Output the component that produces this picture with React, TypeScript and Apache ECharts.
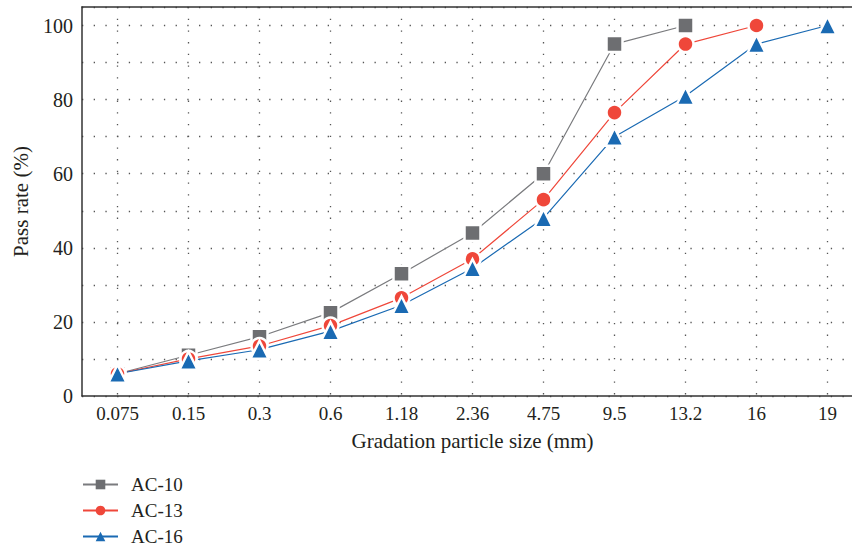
import React, { useEffect, useRef } from "react";
import * as echarts from "echarts";

const categories = ["0.075", "0.15", "0.3", "0.6", "1.18", "2.36", "4.75", "9.5", "13.2", "16", "19"];
const ac10 = [6, 11, 16, 22.5, 33, 44, 60, 95, 100, null, null];
const ac13 = [6, 10, 13.5, 19, 26.5, 37, 53, 76.5, 95, 100, null];
const ac16 = [6, 9.5, 12.5, 17.5, 24.5, 34.5, 48, 70, 81, 95, 100];
const yTicks = [0, 20, 40, 60, 80, 100];

const FONT = "Liberation Serif";
const TXT = "#231f20";

export default function App() {
  const ref = useRef<HTMLDivElement>(null);
  useEffect(() => {
    if (!ref.current) return;
    const chart = echarts.init(ref.current, undefined, { renderer: "svg" });
    const dotted = { color: "#555", width: 1.3, type: [1.3, 10.4] as any };
    const mk = (name: string, data: any[], color: string, lineColor: string, symbol: string, size: number) => ({
      name,
      type: "line",
      data,
      symbol,
      symbolSize: size,
      connectNulls: false,
      lineStyle: { color: lineColor, width: 1.2 },
      itemStyle: { color, borderColor: "#fff", borderWidth: 2.5 },
      emphasis: { disabled: true },
    });
    chart.setOption({
      animation: false,
      textStyle: { fontFamily: FONT },
      grid: { left: 82, right: 0, top: 7, bottom: 152 },
      legend: {
        orient: "vertical",
        left: 82,
        top: 475,
        height: 120,
        padding: 0,
        itemWidth: 35,
        itemHeight: 12,
        itemGap: 7,
        textStyle: { fontFamily: FONT, fontSize: 19, color: TXT, padding: [0, 0, 0, 8] },
        data: [
          { name: "AC-10", itemStyle: { borderWidth: 0 } },
          { name: "AC-13", itemStyle: { borderWidth: 0 } },
          { name: "AC-16", itemStyle: { borderWidth: 0 } },
        ],
      },
      xAxis: [
        {
          type: "category",
          data: categories,
          boundaryGap: true,
          name: "Gradation particle size (mm)",
          nameLocation: "middle",
          nameGap: 34,
          nameTextStyle: { fontFamily: FONT, fontSize: 21, color: TXT },
          axisLine: { lineStyle: { color: "#333", width: 1.5 } },
          axisTick: { inside: true, length: 7, alignWithLabel: true, interval: 0, lineStyle: { color: "#333", width: 1.2 } },
          axisLabel: { interval: 0, margin: 8, fontFamily: FONT, fontSize: 19, color: TXT },
          splitLine: { show: true, interval: 0, alignWithLabel: true, lineStyle: dotted } as any,
        },
        {
          type: "category",
          data: categories,
          position: "top",
          axisLine: { show: true, lineStyle: { color: "#333", width: 1.5 } },
          axisTick: { show: false },
          axisLabel: { show: false },
          splitLine: { show: false },
        },
      ],
      yAxis: {
        type: "value",
        min: 0,
        max: 105,
        interval: 10,
        name: "Pass rate (%)",
        nameLocation: "middle",
        nameGap: 51,
        nameTextStyle: { fontFamily: FONT, fontSize: 21, color: TXT },
        axisLine: { show: true, lineStyle: { color: "#333", width: 1.5 } },
        axisTick: { show: false },
        axisLabel: {
          margin: 9,
          fontFamily: FONT,
          fontSize: 20,
          color: TXT,
          formatter: (v: number) => (yTicks.includes(v) ? String(v) : ""),
        },
        splitLine: { show: true, lineStyle: dotted },
      },
      series: [
        mk("AC-10", ac10, "#6d6e71", "#7a7b7e", "rect", 16),
        mk("AC-13", ac13, "#ef473a", "#ef473a", "circle", 16),
        mk("AC-16", ac16, "#1a6ab3", "#1a6ab3", "triangle", 18),
      ],
    });
    return () => chart.dispose();
  }, []);
  return (
    <div style={{ position: "fixed", left: 0, top: 0, width: 852, height: 548, overflow: "hidden", background: "#fff" }}>
      <div ref={ref} style={{ width: 863, height: 548 }} />
    </div>
  );
}
